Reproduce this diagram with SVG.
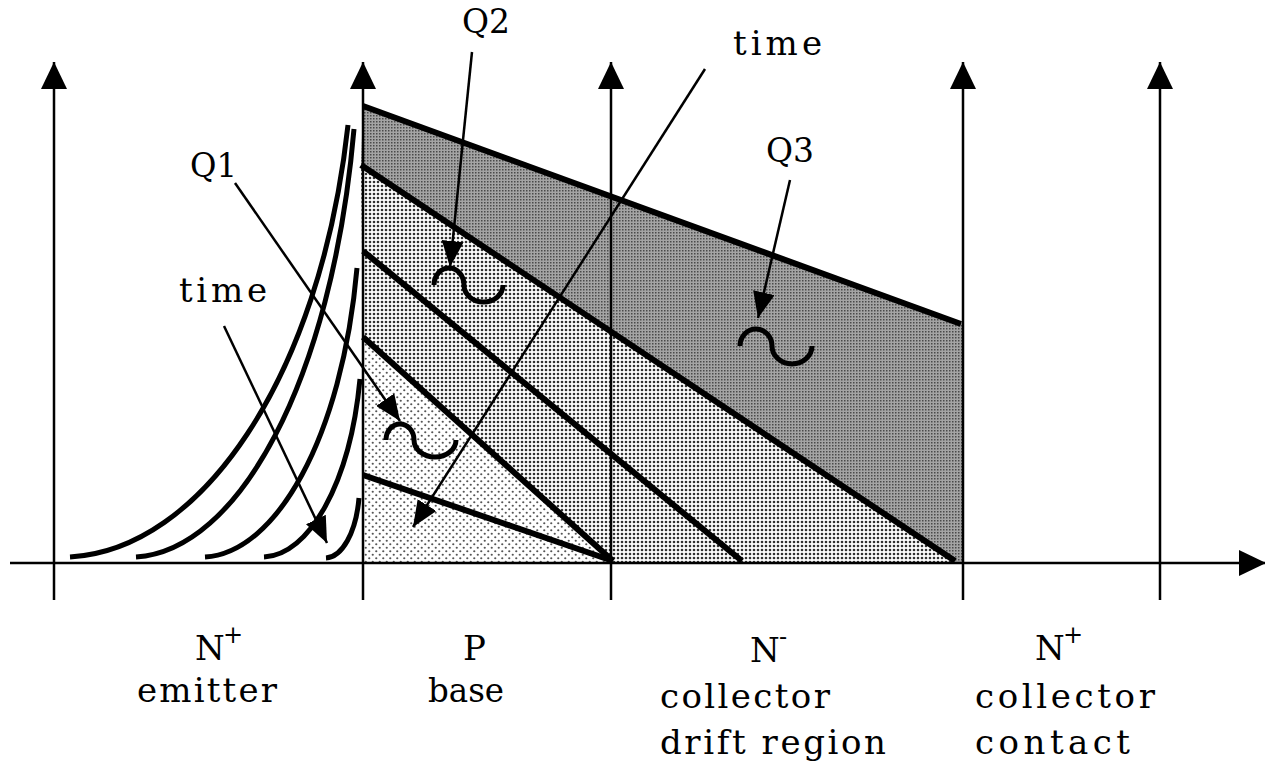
<svg xmlns="http://www.w3.org/2000/svg" width="1265" height="765" viewBox="0 0 1265 765">
<style>
.axis{stroke:#000;stroke-width:2.5;fill:none}
.thick{stroke:#000;stroke-width:6;fill:none;stroke-linecap:butt}
.curve{stroke:#000;stroke-width:5;fill:none}
.arrow{stroke:#000;stroke-width:2.5;fill:none}
.tilde{stroke:#000;stroke-width:5;fill:none}
text{font-family:"DejaVu Serif","Liberation Serif",serif;fill:#000}
.lbl{font-size:34px}
.sup{font-size:24px}
</style>
<defs>
<pattern id="pDark" width="3" height="3" patternUnits="userSpaceOnUse"><rect width="3" height="3" fill="#a4a4a4"/><rect x="1" y="1" width="1.5" height="1.5" fill="#4a4a4a"/></pattern>
<pattern id="pMed" width="4" height="4" patternUnits="userSpaceOnUse"><rect width="4" height="4" fill="#fff"/><circle cx="2" cy="2" r="1.3" fill="#333"/></pattern>
<pattern id="pLight" width="7" height="7" patternUnits="userSpaceOnUse"><rect width="7" height="7" fill="#fff"/><circle cx="1.75" cy="1.75" r="1.1" fill="#555"/><circle cx="5.25" cy="5.25" r="1.1" fill="#555"/></pattern>
<marker id="ah" markerUnits="userSpaceOnUse" markerWidth="26" markerHeight="22" viewBox="0 0 26 22" refX="26" refY="11" orient="auto"><path d="M0,0 L26,11 L0,22 z" fill="#000"/></marker>
<marker id="axh" markerUnits="userSpaceOnUse" markerWidth="27" markerHeight="26" viewBox="0 0 27 26" refX="27" refY="13" orient="auto"><path d="M0,0 L27,13 L0,26 z" fill="#000"/></marker>
</defs>

<g id="regions">
<polygon points="363,106 963,324 963,562 955,562 361,165" fill="url(#pDark)"/>
<polygon points="361,165 955,562 613,562 363,337" fill="url(#pMed)"/>
<polygon points="363,337 613,562 363,562" fill="url(#pLight)"/>
</g>

<g id="axes">
<line class="axis" x1="10" y1="563" x2="1266" y2="563" marker-end="url(#axh)"/>
<line class="axis" x1="54" y1="600" x2="54" y2="62" marker-end="url(#axh)"/>
<line class="axis" x1="363" y1="600" x2="363" y2="62" marker-end="url(#axh)"/>
<line class="axis" x1="611" y1="600" x2="611" y2="62" marker-end="url(#axh)"/>
<line class="axis" x1="963" y1="600" x2="963" y2="62" marker-end="url(#axh)"/>
<line class="axis" x1="1160" y1="600" x2="1160" y2="62" marker-end="url(#axh)"/>
</g>

<g id="profiles">
<line class="thick" x1="363" y1="106" x2="961" y2="324"/>
<line class="thick" x1="361" y1="165" x2="955" y2="561"/>
<line class="thick" x1="363" y1="251" x2="742" y2="561"/>
<line class="thick" x1="363" y1="337" x2="613" y2="561"/>
<line class="thick" x1="363" y1="475" x2="613" y2="561"/>
</g>

<g id="emitter-curves">
<path class="curve" d="M70,557 C200,550 320,380 348,125"/>
<path class="curve" d="M136,557 C238,551 332,382 354,129"/>
<path class="curve" d="M205,557 C276,553 342,438 357,268"/>
<path class="curve" d="M264,557 C309,555 350,484 360,379"/>
<path class="curve" d="M326,558 C342,557 356,533 359,498"/>
</g>

<g id="connectors">
<line class="arrow" x1="235" y1="183" x2="400" y2="421" marker-end="url(#ah)"/>
<line class="arrow" x1="224" y1="326" x2="327" y2="543" marker-end="url(#ah)"/>
<line class="arrow" x1="472" y1="52" x2="450" y2="267" marker-end="url(#ah)"/>
<line class="arrow" x1="705" y1="69" x2="413" y2="527" marker-end="url(#ah)"/>
<line class="arrow" x1="790" y1="180" x2="758" y2="318" marker-end="url(#ah)"/>
</g>

<g id="Q1">
<text class="lbl" x="190" y="177" textLength="47" lengthAdjust="spacingAndGlyphs">Q1</text>
<path class="tilde" d="M386,440 A14,16 0 0,1 414,440 A21,17 0 0,0 456,440"/>
</g>
<g id="Q2">
<text class="lbl" x="462" y="33" textLength="48" lengthAdjust="spacingAndGlyphs">Q2</text>
<path class="tilde" d="M434,285 A15,17 0 0,1 464,285 A19.5,17 0 0,0 503,285"/>
</g>
<g id="Q3">
<text class="lbl" x="766" y="162" textLength="48" lengthAdjust="spacingAndGlyphs">Q3</text>
<path class="tilde" d="M740,346 A16,17 0 0,1 772,346 A20,18 0 0,0 812,346"/>
</g>
<g id="time-left">
<text class="lbl" x="179" y="302" textLength="88" lengthAdjust="spacing">time</text>
</g>
<g id="time-top">
<text class="lbl" x="733" y="55" textLength="89" lengthAdjust="spacing">time</text>
</g>

<g id="label-emitter">
<text class="lbl" x="195" y="660">N</text>
<text class="sup" x="223" y="643">+</text>
<text class="lbl" x="137" y="702" textLength="140" lengthAdjust="spacing">emitter</text>
</g>
<g id="label-base">
<text class="lbl" x="463" y="660">P</text>
<text class="lbl" x="428" y="702" textLength="76" lengthAdjust="spacingAndGlyphs">base</text>
</g>
<g id="label-drift">
<text class="lbl" x="750" y="662">N</text>
<text class="sup" x="779" y="645">-</text>
<text class="lbl" x="660" y="708" textLength="170" lengthAdjust="spacing">collector</text>
<text class="lbl" x="660" y="754" textLength="226" lengthAdjust="spacing">drift region</text>
</g>
<g id="label-contact">
<text class="lbl" x="1035" y="660">N</text>
<text class="sup" x="1063" y="643">+</text>
<text class="lbl" x="975" y="708" textLength="180" lengthAdjust="spacing">collector</text>
<text class="lbl" x="975" y="754" textLength="155" lengthAdjust="spacing">contact</text>
</g>
</svg>
